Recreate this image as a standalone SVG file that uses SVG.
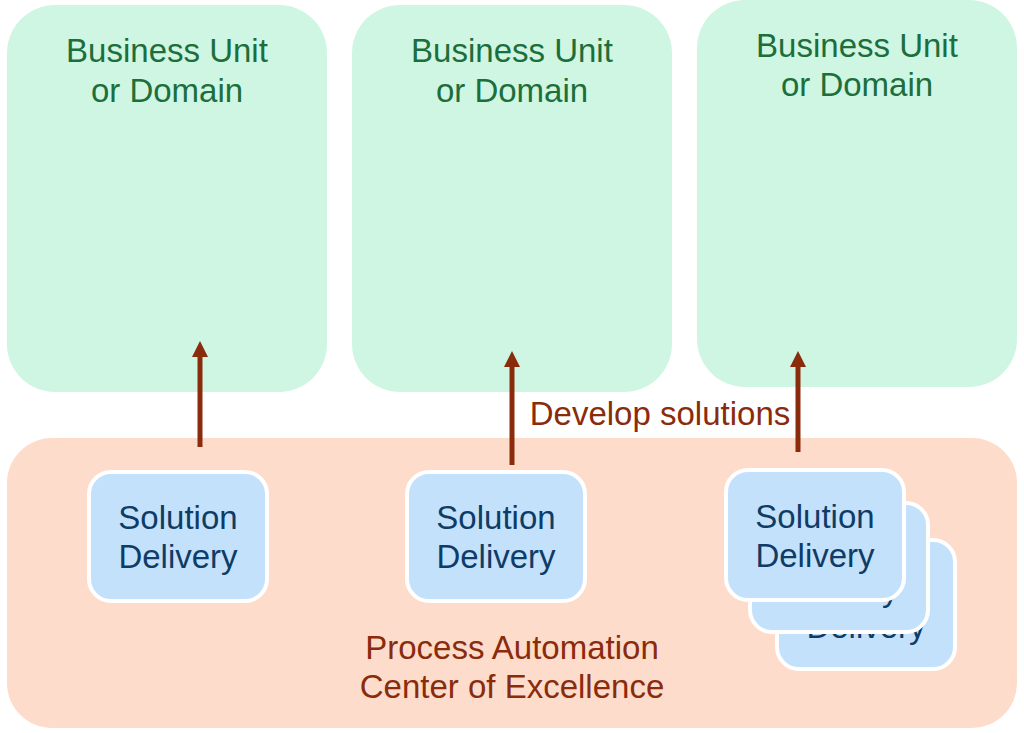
<svg xmlns="http://www.w3.org/2000/svg" width="1024" height="733" viewBox="0 0 1024 733">
<defs>
<style>
.bu{fill:#cff5e3;}
.coe{fill:#fddccb;}
.sd{fill:#c4e1fb;stroke:#ffffff;stroke-width:4;}
text{font-family:"Liberation Sans",Arial,sans-serif;font-size:33px;text-anchor:middle;}
.gt{fill:#1c6e3b;}
.bt{fill:#0f3c66;}
.rt{fill:#8a2b0c;}
.arr{stroke:#8a2b0c;stroke-width:5;fill:none;marker-end:url(#ah);}
</style>
<marker id="ah" viewBox="0 0 16 16" refX="2" refY="8" markerWidth="16" markerHeight="16" markerUnits="userSpaceOnUse" orient="auto">
<path d="M0,0 L16,8 L0,16 Z" fill="#8a2b0c"/>
</marker>
</defs>
<rect width="1024" height="733" fill="#ffffff"/>
<g id="bu1">
<rect class="bu" x="7" y="5" width="320" height="387" rx="48"/>
<text class="gt" x="167" y="62">Business Unit</text>
<text class="gt" x="167" y="102">or Domain</text>
</g>
<g id="bu2">
<rect class="bu" x="352" y="5" width="320" height="387" rx="48"/>
<text class="gt" x="512" y="62">Business Unit</text>
<text class="gt" x="512" y="102">or Domain</text>
</g>
<g id="bu3">
<rect class="bu" x="697" y="0" width="320" height="387" rx="48"/>
<text class="gt" x="857" y="57">Business Unit</text>
<text class="gt" x="857" y="96">or Domain</text>
</g>
<g id="coe">
<rect class="coe" x="7" y="438" width="1010" height="290" rx="45"/>
<text class="rt" x="512" y="659">Process Automation</text>
<text class="rt" x="512" y="698">Center of Excellence</text>
</g>
<g id="sd1">
<rect class="sd" x="89" y="472" width="178" height="129" rx="22"/>
<text class="bt" x="178" y="529">Solution</text>
<text class="bt" x="178" y="568">Delivery</text>
</g>
<g id="sd2">
<rect class="sd" x="407" y="472" width="178" height="129" rx="22"/>
<text class="bt" x="496" y="529">Solution</text>
<text class="bt" x="496" y="568">Delivery</text>
</g>
<g id="sd5">
<rect class="sd" x="777" y="540" width="178" height="129" rx="22"/>
<text class="bt" x="866" y="638">Delivery</text>
</g>
<g id="sd4">
<rect class="sd" x="750" y="503" width="178" height="129" rx="22"/>
<text class="bt" x="839" y="601">Delivery</text>
</g>
<g id="sd3">
<rect class="sd" x="726" y="470" width="178" height="130" rx="22"/>
<text class="bt" x="815" y="528">Solution</text>
<text class="bt" x="815" y="567">Delivery</text>
</g>
<g id="connectors">
<line class="arr" x1="200" y1="447" x2="200" y2="355"/>
<line class="arr" x1="512" y1="465" x2="512" y2="365"/>
<line class="arr" x1="798" y1="452" x2="798" y2="365"/>
<text class="rt" x="660" y="425">Develop solutions</text>
</g>
</svg>
